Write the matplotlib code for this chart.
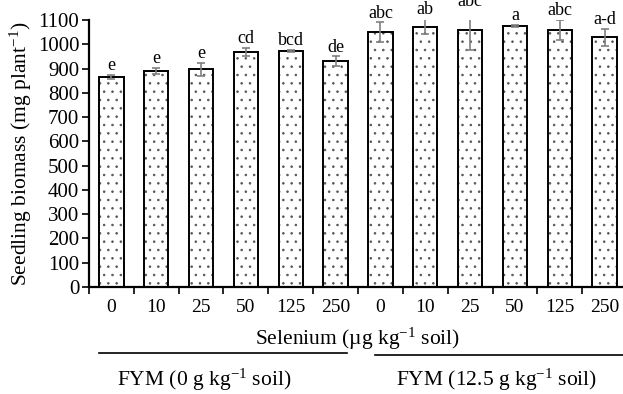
import matplotlib
matplotlib.use("Agg")
import matplotlib.pyplot as plt
from matplotlib.lines import Line2D
import numpy as np

# data
selenium = ["0", "10", "25", "50", "125", "250", "0", "10", "25", "50", "125", "250"]
biomass = [865, 890, 897, 968, 973, 930, 1050, 1073, 1057, 1075, 1060, 1028]
errors = [10, 12, 26, 17, 4, 20, 40, 30, 81, 4, 42, 36]
letters = ["e", "e", "e", "cd", "bcd", "de", "abc", "ab", "abc", "a", "abc", "a-d"]
groups = ["FYM (0 g kg$^{\\mathrm{-1}}$ soil)", "FYM (12.5 g kg$^{\\mathrm{-1}}$ soil)"]

plt.rcParams.update({
    "font.family": ["Liberation Serif", "DejaVu Serif"],
    "mathtext.fontset": "custom",
    "mathtext.rm": "Liberation Serif",
    "mathtext.it": "Liberation Serif:italic",
    "hatch.linewidth": 0.6,
    "hatch.color": "#555555",
})

W, H = 623, 394
fig = plt.figure(figsize=(W / 100, H / 100), dpi=100)
ax = fig.add_axes([89 / W, 107 / H, 538 / W, 267 / H])

x = np.arange(len(biomass))
ax.bar(x, biomass, width=0.54, color="white", edgecolor="black", linewidth=1.4,
       hatch="..", zorder=2)
# re-apply hatch colour (edgecolor overrides it)
for p in ax.patches:
    p._hatch_color = matplotlib.colors.to_rgba("#555555")
ax.errorbar(x, biomass, yerr=errors, fmt="none", ecolor="#808080", elinewidth=1.2,
            capsize=3, capthick=1.2, zorder=3)

for xi, v, e, lab in zip(x, biomass, errors, letters):
    ax.annotate(lab, (xi, v + e), xytext=(0, 3.5), textcoords="offset points",
                ha="center", va="baseline", fontsize=13, annotation_clip=False)

ax.set_xlim(-0.5, len(biomass) - 0.5)
ax.set_ylim(0, 1100)
ax.set_yticks(np.arange(0, 1101, 100))
ax.tick_params(axis="y", labelsize=15, direction="out", length=5, width=1.2, pad=2)

# ticks at category boundaries, labels at centres
ax.set_xticks(np.arange(-0.5, len(biomass), 1.0))
ax.set_xticklabels([])
ax.set_xticks(x, minor=True)
ax.set_xticklabels(selenium, minor=True, fontsize=14)
ax.tick_params(axis="x", which="major", direction="out", length=5, width=1.2)
ax.tick_params(axis="x", which="minor", length=0, pad=9)

for s in ["top", "right"]:
    ax.spines[s].set_visible(False)
for s in ["left", "bottom"]:
    ax.spines[s].set_linewidth(1.6)

ax.set_ylabel("Seedling biomass (mg plant$^{\\mathrm{-1}}$)", fontsize=15.5, labelpad=3)

fig.text(358 / W, (H - 345) / H, "Selenium (\u00b5g kg$^{\\mathrm{-1}}$ soil)",
         ha="center", va="baseline", fontsize=15.5)

fig.add_artist(Line2D([99 / W, 347 / W], [(H - 353) / H] * 2, color="black", lw=1.2))
fig.add_artist(Line2D([375 / W, 1.0], [(H - 355) / H] * 2, color="black", lw=1.2))
fig.text(204 / W, 8 / H, groups[0], ha="center", va="baseline", fontsize=15.5)
fig.text(497 / W, 8 / H, groups[1], ha="center", va="baseline", fontsize=15.5)

fig.savefig("out.png", dpi=100)
